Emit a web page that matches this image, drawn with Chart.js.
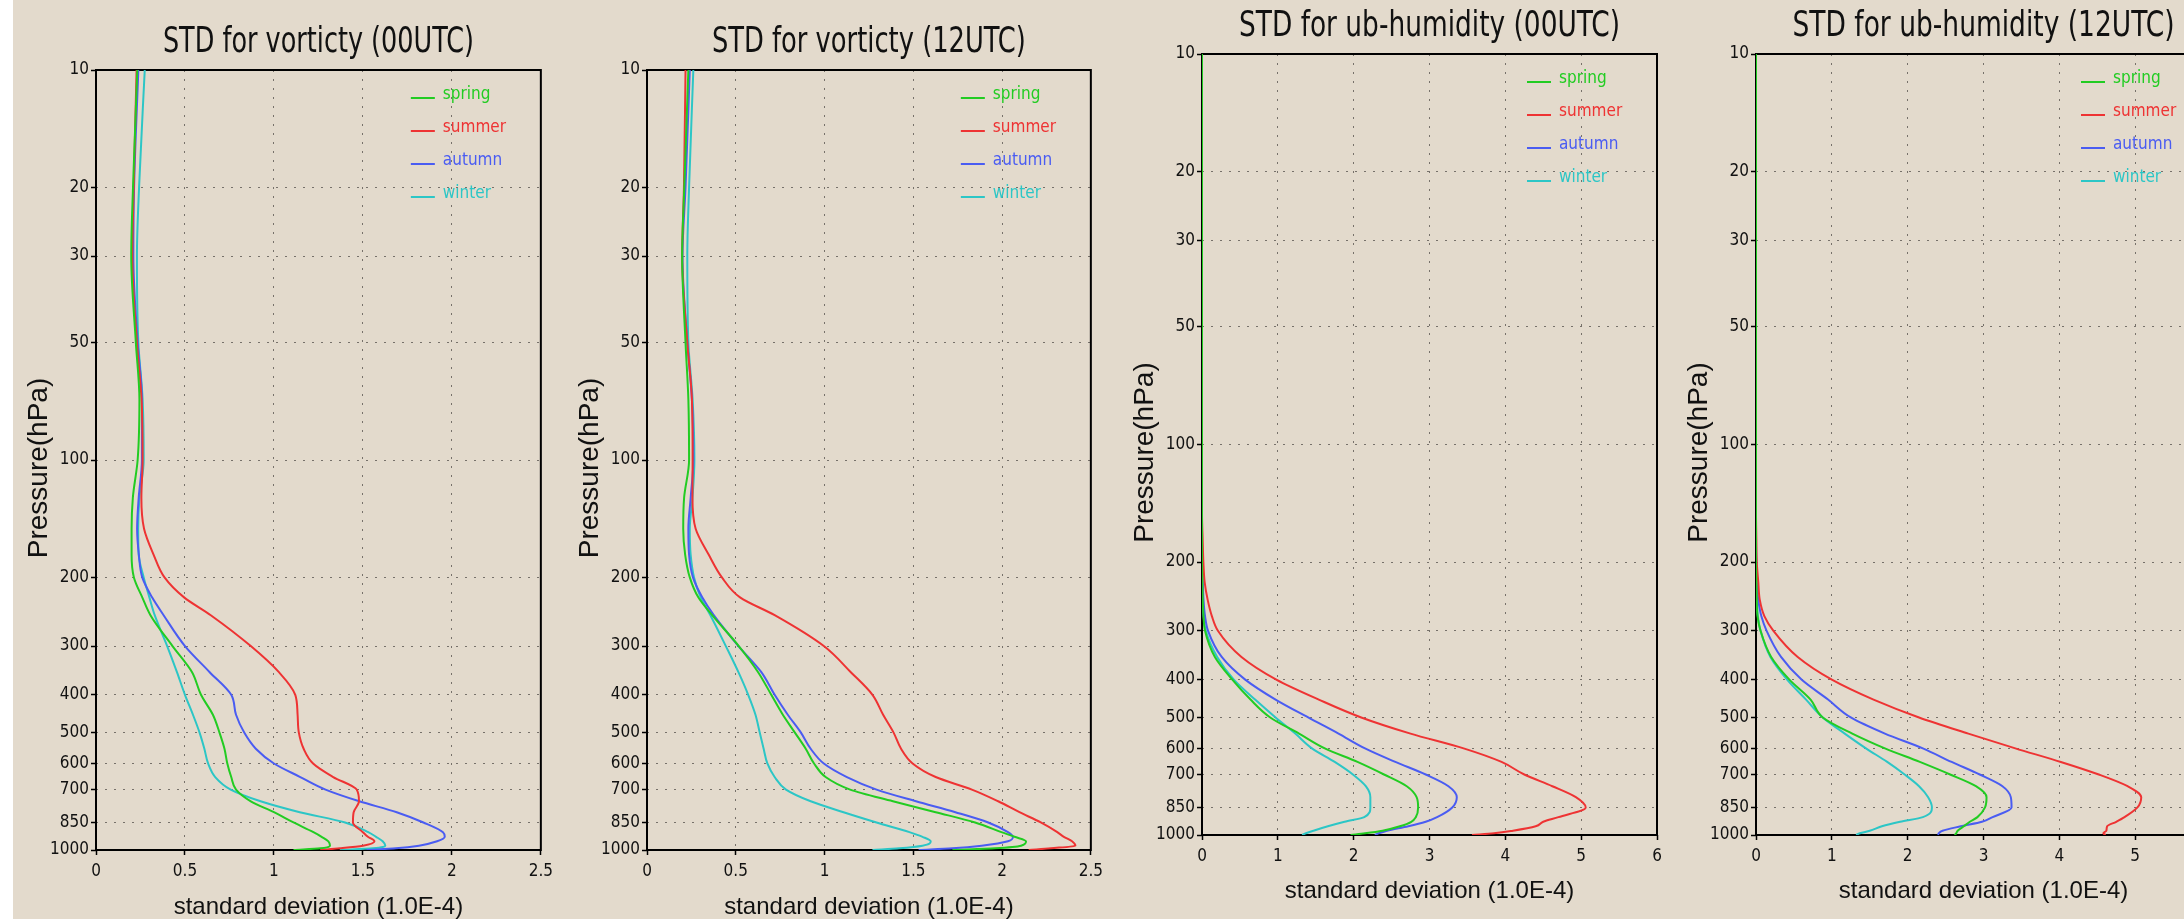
<!DOCTYPE html>
<html>
<head>
<meta charset="utf-8">
<title>STD profiles</title>
<script src="https://cdn.jsdelivr.net/npm/chart.js"></script>
<style>
  html, body { margin: 0; padding: 0; }
  body { width: 2184px; height: 919px; overflow: hidden; position: relative; background: #e3dacc; }
  #strip { position: absolute; left: 0; top: 0; width: 13px; height: 919px; background: #fff; }
  .panel { position: absolute; top: 0; }
</style>
</head>
<body>
<div id="strip"></div>
<canvas id="vort00" class="panel"></canvas>
<canvas id="vort12" class="panel"></canvas>
<canvas id="hum00" class="panel"></canvas>
<canvas id="hum12" class="panel"></canvas>
<script>
// seasons and their line colours
const seasons = ['spring', 'summer', 'autumn', 'winter'];
const seasonColors = ['#22cc22', '#ee3333', '#4a5cf2', '#2cc6c6'];

// pressure axis labels (hPa)
const pressureTicks = [10, 20, 30, 50, 100, 200, 300, 400, 500, 600, 700, 850, 1000];

// vorticity profiles
const vortLevels = [10, 20, 30, 50, 70, 100, 125, 150, 175, 200, 225, 250, 300, 350, 400, 450, 500, 550, 600, 650, 700, 750, 800, 850, 900, 925, 950, 975, 990, 1000];

const vort00Spring = [0.232, 0.208, 0.198, 0.224, 0.244, 0.234, 0.207, 0.200, 0.200, 0.213, 0.260, 0.306, 0.430, 0.540, 0.590, 0.657, 0.694, 0.722, 0.738, 0.760, 0.787, 0.870, 1.000, 1.110, 1.222, 1.268, 1.306, 1.315, 1.260, 1.110];
const vort00Summer = [0.228, 0.212, 0.204, 0.230, 0.256, 0.262, 0.255, 0.270, 0.324, 0.385, 0.495, 0.645, 0.870, 1.028, 1.120, 1.133, 1.140, 1.167, 1.220, 1.333, 1.465, 1.478, 1.448, 1.444, 1.500, 1.528, 1.565, 1.500, 1.370, 1.260];
const vort00Autumn = [0.238, 0.214, 0.210, 0.234, 0.258, 0.258, 0.240, 0.231, 0.241, 0.260, 0.315, 0.380, 0.500, 0.639, 0.760, 0.787, 0.833, 0.898, 1.000, 1.148, 1.290, 1.480, 1.690, 1.840, 1.950, 1.960, 1.917, 1.815, 1.685, 1.520];
const vort00Winter = [0.274, 0.242, 0.230, 0.238, 0.262, 0.268, 0.244, 0.237, 0.240, 0.268, 0.300, 0.330, 0.400, 0.455, 0.500, 0.545, 0.582, 0.609, 0.630, 0.670, 0.757, 0.925, 1.145, 1.400, 1.530, 1.574, 1.611, 1.626, 1.556, 1.370];

const vort12Spring = [0.233, 0.210, 0.198, 0.217, 0.233, 0.237, 0.209, 0.204, 0.215, 0.241, 0.289, 0.367, 0.517, 0.626, 0.700, 0.765, 0.833, 0.894, 0.941, 1.006, 1.144, 1.385, 1.626, 1.848, 1.996, 2.070, 2.135, 2.107, 1.960, 1.720];
const vort12Summer = [0.217, 0.208, 0.198, 0.227, 0.253, 0.257, 0.256, 0.274, 0.348, 0.422, 0.524, 0.719, 0.996, 1.148, 1.270, 1.330, 1.389, 1.431, 1.496, 1.626, 1.830, 1.978, 2.098, 2.218, 2.311, 2.348, 2.394, 2.413, 2.274, 2.150];
const vort12Autumn = [0.241, 0.217, 0.200, 0.227, 0.253, 0.261, 0.246, 0.233, 0.237, 0.259, 0.311, 0.376, 0.515, 0.644, 0.719, 0.793, 0.867, 0.922, 0.996, 1.126, 1.293, 1.515, 1.737, 1.922, 2.033, 2.061, 2.033, 1.885, 1.720, 1.530];
const vort12Winter = [0.261, 0.237, 0.227, 0.233, 0.257, 0.267, 0.256, 0.241, 0.246, 0.265, 0.302, 0.357, 0.444, 0.515, 0.570, 0.611, 0.635, 0.657, 0.678, 0.719, 0.783, 0.922, 1.107, 1.293, 1.478, 1.552, 1.598, 1.552, 1.420, 1.270];

// ub-humidity profiles
const humLevels = [10, 50, 100, 150, 175, 200, 225, 250, 275, 300, 350, 400, 450, 500, 550, 600, 650, 700, 750, 800, 850, 900, 925, 950, 975, 990, 1000];

const hum00Spring = [0, 0, 0, 0, 0, 0, 0.005, 0.01, 0.02, 0.04, 0.17, 0.40, 0.64, 0.90, 1.28, 1.62, 2.05, 2.40, 2.70, 2.83, 2.85, 2.82, 2.76, 2.61, 2.38, 2.15, 1.96];
const hum00Summer = [0, 0, 0, 0, 0.009, 0.018, 0.035, 0.075, 0.13, 0.21, 0.52, 0.98, 1.54, 2.10, 2.75, 3.45, 3.95, 4.25, 4.62, 4.93, 5.06, 4.70, 4.50, 4.40, 4.10, 3.85, 3.56];
const hum00Autumn = [0, 0, 0, 0, 0, 0.005, 0.01, 0.02, 0.04, 0.08, 0.26, 0.57, 0.97, 1.40, 1.80, 2.15, 2.55, 2.95, 3.25, 3.36, 3.30, 3.10, 2.95, 2.72, 2.44, 2.33, 2.28];
const hum00Winter = [0, 0, 0, 0, 0, 0, 0, 0.01, 0.02, 0.05, 0.20, 0.42, 0.70, 0.97, 1.23, 1.45, 1.75, 1.99, 2.16, 2.22, 2.22, 2.14, 1.88, 1.66, 1.47, 1.37, 1.32];

const hum12Spring = [0, 0, 0, 0, 0, 0, 0.005, 0.01, 0.02, 0.06, 0.20, 0.44, 0.72, 0.88, 1.27, 1.70, 2.16, 2.56, 2.90, 3.04, 3.02, 2.92, 2.82, 2.74, 2.66, 2.64, 2.62];
const hum12Summer = [0, 0, 0, 0, 0.005, 0.01, 0.03, 0.05, 0.11, 0.23, 0.55, 1.00, 1.55, 2.15, 2.80, 3.42, 4.02, 4.52, 4.90, 5.08, 5.03, 4.86, 4.75, 4.63, 4.62, 4.58, 4.61];
const hum12Autumn = [0, 0, 0, 0, 0, 0.005, 0.01, 0.03, 0.07, 0.14, 0.33, 0.60, 0.95, 1.25, 1.70, 2.20, 2.58, 2.95, 3.25, 3.36, 3.37, 3.12, 2.98, 2.70, 2.46, 2.41, 2.40];
const hum12Winter = [0, 0, 0, 0, 0, 0, 0, 0.01, 0.025, 0.06, 0.19, 0.41, 0.66, 0.88, 1.17, 1.45, 1.73, 1.96, 2.15, 2.27, 2.32, 2.20, 1.90, 1.66, 1.50, 1.37, 1.32];

const NARROW = "'Liberation Sans Narrow', 'DejaVu Sans Condensed', 'Arial Narrow', sans-serif";
const WIDE = "'Liberation Sans', Arial, sans-serif";
const PAGE_H = 919;
const Y_AXIS_W = 96;

// panel layout on the page (plot area)
const panels = [
  { id: 'vort00', title: 'STD for vorticty (00UTC)', levels: vortLevels,
    series: [vort00Spring, vort00Summer, vort00Autumn, vort00Winter],
    xMax: 2.5, xStep: 0.5, left: 96, width: 451, top: 70, bottom: 850, titleW: 311, xTitlePad: 0 },
  { id: 'vort12', title: 'STD for vorticty (12UTC)', levels: vortLevels,
    series: [vort12Spring, vort12Summer, vort12Autumn, vort12Winter],
    xMax: 2.5, xStep: 0.5, left: 647, width: 450, top: 70, bottom: 850, titleW: 314, xTitlePad: 0 },
  { id: 'hum00', title: 'STD for ub-humidity (00UTC)', levels: humLevels,
    series: [hum00Spring, hum00Summer, hum00Autumn, hum00Winter],
    xMax: 6, xStep: 1, left: 1202, width: 455, top: 54, bottom: 835, titleW: 381, xTitlePad: 16 },
  { id: 'hum12', title: 'STD for ub-humidity (12UTC)', levels: humLevels,
    series: [hum12Spring, hum12Summer, hum12Autumn, hum12Winter],
    xMax: 6, xStep: 1, left: 1756, width: 455, top: 54, bottom: 835, titleW: 382, xTitlePad: 16 }
];

// black frame round the plot, the in-plot legend, the narrow title and the pressure label
const frameAndLegend = {
  id: 'frameAndLegend',
  beforeDatasetsDraw(chart) {
    const { ctx, chartArea: a } = chart;
    ctx.save();
    ctx.strokeStyle = '#000';
    ctx.lineWidth = 2;
    ctx.strokeRect(a.left, a.top, a.right - a.left, a.bottom - a.top);
    ctx.restore();
  },
  afterDatasetsDraw(chart, args, opts) {
    const { ctx, chartArea: a } = chart;
    ctx.save();
    ctx.font = '17px ' + NARROW;
    ctx.textBaseline = 'alphabetic';
    chart.data.datasets.forEach((ds, i) => {
      const y = a.top + 28 + 33 * i;
      ctx.strokeStyle = ds.borderColor;
      ctx.lineWidth = 2;
      ctx.beginPath();
      ctx.moveTo(a.right - 130, y);
      ctx.lineTo(a.right - 106, y);
      ctx.stroke();
      ctx.fillStyle = ds.borderColor;
      ctx.fillText(ds.label, a.right - 98, y + 1);
    });
    ctx.restore();

    // title, squeezed to the narrow look of the original
    ctx.save();
    ctx.font = '35px ' + NARROW;
    ctx.fillStyle = '#111';
    ctx.textBaseline = 'alphabetic';
    ctx.textAlign = 'center';
    const w = ctx.measureText(opts.title).width;
    ctx.translate((a.left + a.right) / 2, a.top - 18);
    ctx.scale(opts.titleW / w, 1);
    ctx.fillText(opts.title, 0, 0);
    ctx.restore();

    // rotated y-axis label
    ctx.save();
    ctx.font = '28px ' + WIDE;
    ctx.fillStyle = '#111';
    ctx.textAlign = 'center';
    ctx.textBaseline = 'middle';
    ctx.translate(a.left - 57, (a.top + a.bottom) / 2 + 8);
    ctx.rotate(-Math.PI / 2);
    ctx.fillText('Pressure(hPa)', 0, 0);
    ctx.restore();
  }
};

function makeChart(p) {
  const canvas = document.getElementById(p.id);
  canvas.width = Y_AXIS_W + p.width + 12;
  canvas.height = PAGE_H;
  canvas.style.left = (p.left - Y_AXIS_W) + 'px';

  const datasets = p.series.map((vals, i) => ({
    label: seasons[i],
    data: p.levels.map((lev, j) => ({ x: vals[j], y: lev })),
    borderColor: seasonColors[i],
    borderWidth: 2,
    pointRadius: 0,
    fill: false,
    cubicInterpolationMode: 'monotone'
  }));

  const gridStyle = { color: '#77716a', lineWidth: 1, tickLength: 5, tickColor: '#000', tickWidth: 1.5 };

  return new Chart(canvas, {
    type: 'line',
    data: { datasets },
    options: {
      responsive: false,
      animation: false,
      indexAxis: 'y',
      layout: { padding: { top: p.top, right: 12, bottom: 0, left: 0 } },
      plugins: {
        legend: { display: false },
        tooltip: { enabled: false },
        title: { display: false },
        frameAndLegend: { title: p.title, titleW: p.titleW }
      },
      scales: {
        x: {
          type: 'linear',
          position: 'bottom',
          min: 0,
          max: p.xMax,
          ticks: { stepSize: p.xStep, color: '#111', font: { family: NARROW, size: 17 }, padding: 6, maxRotation: 0, callback: v => String(v) },
          grid: gridStyle,
          border: { display: false, dash: [2, 7] },
          title: {
            display: true,
            text: 'standard deviation (1.0E-4)',
            color: '#111',
            font: { family: WIDE, size: 24, lineHeight: 1 },
            padding: { top: 0, bottom: p.xTitlePad }
          },
          afterFit: s => { s.height = PAGE_H - p.bottom; }
        },
        y: {
          type: 'logarithmic',
          position: 'left',
          reverse: true,
          min: 10,
          max: 1000,
          afterBuildTicks: s => { s.ticks = pressureTicks.map(v => ({ value: v })); },
          ticks: { autoSkip: false, color: '#111', font: { family: NARROW, size: 17 }, padding: 2, callback: v => String(v) },
          grid: gridStyle,
          border: { display: false, dash: [2, 7] },
          afterFit: s => { s.width = Y_AXIS_W; }
        }
      }
    },
    plugins: [frameAndLegend]
  });
}

panels.forEach(makeChart);
</script>
</body>
</html>
